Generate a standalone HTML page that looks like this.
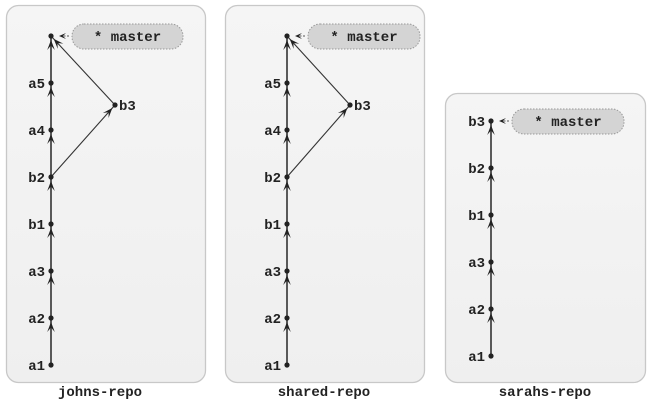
<!DOCTYPE html>
<html><head><meta charset="utf-8"><style>
html,body{margin:0;padding:0;background:#fff;}
svg{display:block;}
text{font-family:"Liberation Mono","DejaVu Sans Mono",monospace;font-weight:bold;fill:#222;}
</style></head><body>
<svg id="s" width="650" height="406" viewBox="0 0 650 406">
<defs>
<linearGradient id="pg" x1="0" y1="0" x2="0" y2="1"><stop offset="0" stop-color="#f5f5f5"/><stop offset="1" stop-color="#efefef"/></linearGradient>
</defs>
</svg>
<script>
const NS='http://www.w3.org/2000/svg';
const svg=document.getElementById('s');
const repoNames=['johns-repo','shared-repo','sarahs-repo'];
const repoCommits=[
 ['a1','a2','a3','b1','b2','a4','a5',''],
 ['a1','a2','a3','b1','b2','a4','a5',''],
 ['a1','a2','a3','b1','b2','b3']
];
const mergeCommit=['b3','b3',null];
const panels=[
 {x:6,y:5,w:199,h:377,nx:51,y0:365,step:47,bx:115,by:105,px:72,pw:111,lx:100},
 {x:225,y:5,w:199,h:377,nx:287,y0:365,step:47,bx:350,by:105,px:308,pw:112,lx:324},
 {x:445,y:93,w:200,h:289,nx:491,y0:356,step:47,bx:0,by:0,px:512,pw:112,lx:545}
];
function el(t,a,p){const e=document.createElementNS(NS,t);for(const k in a)e.setAttribute(k,a[k]);(p||svg).appendChild(e);return e;}
function arrowHead(g,x,y,ang,s,w){
 s=s||10;w=w||3.8;
 const c=Math.cos(ang),sn=Math.sin(ang);
 const p=[[x,y],[x-s*c+w*sn,y-s*sn-w*c],[x-s*0.55*c,y-s*0.55*sn],[x-s*c-w*sn,y-s*sn+w*c]];
 const a=el('polygon',{points:p.map(q=>q.join(',')).join(' '),fill:'#222'},g);
 
 
}
function edge(g,x1,y1,x2,y2,bold){
 const l=el('line',{x1,y1,x2,y2,stroke:'#333','stroke-width':bold?1.6:1.1},g);
 
 
 const ang=Math.atan2(y2-y1,x2-x1);
 const d=Math.hypot(x2-x1,y2-y1);
 arrowHead(g,x1+(x2-x1)*(d-4)/d,y1+(y2-y1)*(d-4)/d,ang);
}
panels.forEach((P,i)=>{
 const g=el('g',{});
 
 
 const r=el('rect',{x:P.x+0.5,y:P.y+0.5,width:P.w,height:P.h,rx:12,fill:'url(#pg)',stroke:'#c8c8c8','stroke-width':1.3},g);
 
 
 const cs=repoCommits[i];
 const ys=cs.map((c,k)=>P.y0-k*P.step);
 for(let k=1;k<cs.length;k++) edge(g,P.nx,ys[k-1],P.nx,ys[k],true);
 if(mergeCommit[i]){
  const bi=cs.indexOf('b2');
  edge(g,P.nx,ys[bi],P.bx,P.by,false);
  edge(g,P.bx,P.by,P.nx,ys[cs.length-1],false);
  const d=el('circle',{cx:P.bx,cy:P.by,r:2.6,fill:'#222'},g);
  
  
  const t=el('text',{x:P.bx+4,y:P.by+5,'font-size':14},g);t.textContent=mergeCommit[i];
  
  
 }
 cs.forEach((c,k)=>{
  const d=el('circle',{cx:P.nx,cy:ys[k],r:2.6,fill:'#222'},g);
  
  
  if(c){const t=el('text',{x:P.nx-6,y:ys[k]+5,'font-size':14,'text-anchor':'end'},g);t.textContent=c;
   
   }
 });
 const ty=ys[cs.length-1];
 const pill=el('rect',{x:P.px,y:ty-12,width:P.pw,height:25,rx:12,fill:'#d4d4d4',stroke:'#999','stroke-dasharray':'1.5,1.5'},g);
 
 
 const pt=el('text',{x:P.px+P.pw/2,y:ty+5,'font-size':14,'text-anchor':'middle'},g);pt.textContent='* master';
 
 
 const pl=el('line',{x1:P.px-3,y1:ty,x2:P.nx+10,y2:ty,stroke:'#555','stroke-width':1,'stroke-dasharray':'2,1.5'},g);
 
 
 arrowHead(g,P.nx+8,ty,Math.PI,7,3);
 const lt=el('text',{x:P.lx,y:396,'font-size':14,'text-anchor':'middle'},g);lt.textContent=repoNames[i];
 
 
});
</script>
</body></html>
